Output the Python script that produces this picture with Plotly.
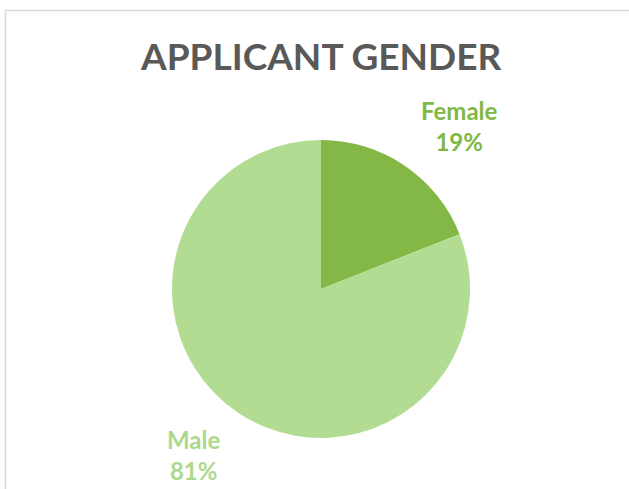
import plotly.graph_objects as go

labels = ["Female", "Male"]
values = [19, 81]
colors = ["#83b846", "#b3dc93"]
label_colors = ["#7fb843", "#acd98b"]
title_text = "APPLICANT GENDER"

W, H = 629, 489
L, R, T, B = 172, 159, 140, 51
pw, ph = W - L - R, H - T - B

def px(x):
    return (x - L) / pw

def py(y):
    return (H - B - y) / ph

total = sum(values)
label_pos = [(459, 126), (194, 455)]

fig = go.Figure(go.Pie(
    labels=labels, values=values, sort=False, direction="clockwise",
    rotation=0, marker=dict(colors=colors, line=dict(width=0)),
    textinfo="none", hoverinfo="label+percent", showlegend=False,
))

ann = []
for lab, v, c, (x, y) in zip(labels, values, label_colors, label_pos):
    ann.append(dict(
        x=px(x), y=py(y), xref="paper", yref="paper", showarrow=False,
        text=f"<b>{lab}<br>{round(100 * v / total)}%</b>",
        font=dict(family="Lato", size=24, color=c), align="center",
        xanchor="center", yanchor="middle",
    ))
ann.append(dict(
    x=px(320), y=py(56), xref="paper", yref="paper", showarrow=False,
    text=f"<b>{title_text}</b>", font=dict(family="Lato", size=37, color="#595959"),
    xanchor="center", yanchor="middle",
))

fig.update_layout(
    width=W, height=H, margin=dict(l=L, r=R, t=T, b=B),
    paper_bgcolor="white", plot_bgcolor="white",
    annotations=ann,
    shapes=[dict(type="rect", xref="paper", yref="paper",
                 x0=px(5.5), x1=px(640), y0=py(10.5), y1=py(500),
                 line=dict(color="#d9d9d9", width=1.5), fillcolor="rgba(0,0,0,0)")],
)
fig.write_html("out.html")
